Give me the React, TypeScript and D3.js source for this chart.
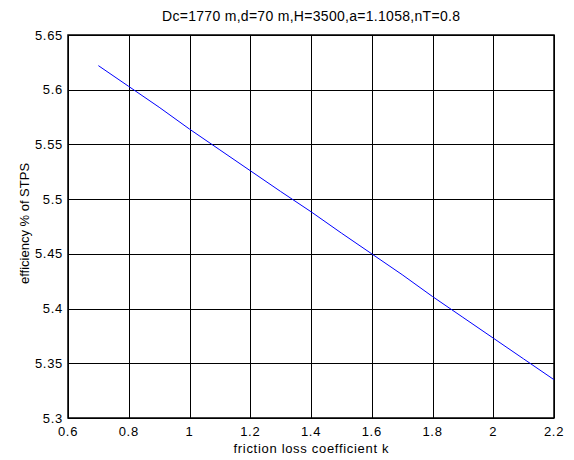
import React from "react";
import * as d3 from "d3";

const kValues = [0.7, 0.8, 0.9, 1.0, 1.1, 1.2, 1.3, 1.4, 1.5, 1.6, 1.7, 1.8, 1.9, 2.0, 2.1, 2.2];
const efficiency = [5.622, 5.603, 5.584, 5.564, 5.545, 5.526, 5.507, 5.4885, 5.469, 5.45, 5.431, 5.411, 5.392, 5.373, 5.354, 5.335];
const xTicks = [0.6, 0.8, 1, 1.2, 1.4, 1.6, 1.8, 2, 2.2];
const yTicks = [5.3, 5.35, 5.4, 5.45, 5.5, 5.55, 5.6, 5.65];
const titleText = "Dc=1770 m,d=70 m,H=3500,a=1.1058,nT=0.8";
const xLabel = "friction loss coefficient k";
const yLabel = "efficiency % of STPS";

const W = 574, H = 460;
const M = { left: 68, right: 20, top: 35, bottom: 42 };

export default function App() {
  const x = d3.scaleLinear().domain([0.6, 2.2]).range([M.left, W - M.right]);
  const y = d3.scaleLinear().domain([5.3, 5.65]).range([H - M.bottom, M.top]);
  const line = d3.line<number>().x((_, i) => x(kValues[i])).y((d) => y(d));
  const font = "'Liberation Sans', Arial, Helvetica, sans-serif";
  const x0 = x(0.6), x1 = x(2.2), y0 = y(5.3), y1 = y(5.65);
  return (
    <svg width={W} height={H} style={{ position: "absolute", left: 0, top: 0, background: "#fff" }}
      fontFamily={font} fontSize={13}>
      <rect x={0} y={0} width={W} height={H} fill="#fff" />
      {xTicks.map((t) => (
        <line key={"gx" + t} x1={Math.round(x(t)) + 0.5} x2={Math.round(x(t)) + 0.5} y1={y1} y2={y0} stroke="#000" strokeWidth={1} />
      ))}
      {yTicks.map((t) => (
        <line key={"gy" + t} x1={x0} x2={x1} y1={Math.round(y(t)) + 0.5} y2={Math.round(y(t)) + 0.5} stroke="#000" strokeWidth={1} />
      ))}
      <rect x={x0} y={y1} width={x1 - x0} height={y0 - y1} fill="none" stroke="#000" strokeWidth={1.5} />
      <path d={line(efficiency) || ""} fill="none" stroke="#0000ff" strokeWidth={1} />
      {xTicks.map((t) => (
        <text key={"tx" + t} x={x(t)} y={y0 + 18} textAnchor="middle" fill="#000" letterSpacing={0.7}>{String(t)}</text>
      ))}
      {yTicks.map((t) => (
        <text key={"ty" + t} x={x0 - 5} y={y(t) + 4.5} textAnchor="end" fill="#000" letterSpacing={0.7}>{String(t)}</text>
      ))}
      <text x={(x0 + x1) / 2} y={y0 + 35} textAnchor="middle" fill="#000" textLength={155} lengthAdjust="spacing">{xLabel}</text>
      <text transform={`translate(${29},${(y0 + y1) / 2 - 3}) rotate(-90)`} textAnchor="middle" fill="#000">{yLabel}</text>
      <text x={(x0 + x1) / 2} y={21} textAnchor="middle" fill="#000" fontSize={14} textLength={298} lengthAdjust="spacing">{titleText}</text>
    </svg>
  );
}
